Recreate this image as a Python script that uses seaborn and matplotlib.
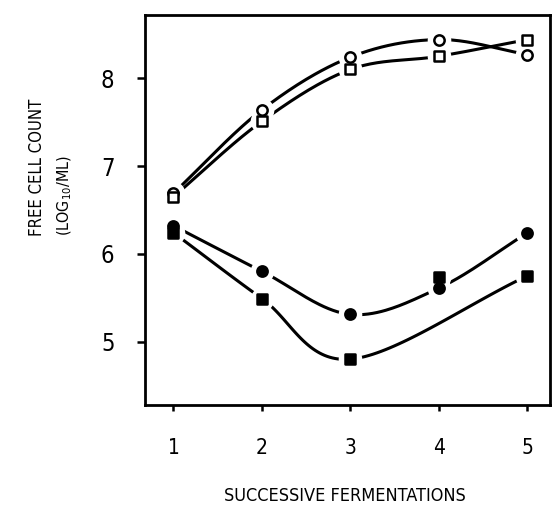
import numpy as np
import pandas as pd
import matplotlib
matplotlib.use("Agg")
import matplotlib.pyplot as plt
import seaborn as sns

# ---- data ----
fermentations = [1, 2, 3, 4, 5]
open_circle = [6.69, 7.64, 8.24, 8.44, 8.27]
open_square = [6.65, 7.51, 8.10, 8.25, 8.44]
filled_circle = [6.32, 5.80, 5.31, 5.61, 6.24]
filled_square = [6.24, 5.49, 4.80, 5.74, 5.75]
# points that the hand-drawn guide curve follows
filled_square_in_curve = [True, True, True, False, True]
x_ticks = [1, 2, 3, 4, 5]
y_ticks = [5, 6, 7, 8]

sns.set_theme(style="ticks")
plt.rcParams["font.family"] = ["DejaVu Sans"]
plt.rcParams["font.stretch"] = "condensed"


def catmull_rom(xs, ys, n=40):
    xs = np.asarray(xs, float)
    ys = np.asarray(ys, float)
    px = np.concatenate([[2 * xs[0] - xs[1]], xs, [2 * xs[-1] - xs[-2]]])
    py = np.concatenate([[2 * ys[0] - ys[1]], ys, [2 * ys[-1] - ys[-2]]])
    ox, oy = [], []
    for i in range(1, len(px) - 2):
        t = np.linspace(0, 1, n, endpoint=(i == len(px) - 3))
        for arr, out in ((px, ox), (py, oy)):
            p0, p1, p2, p3 = arr[i - 1], arr[i], arr[i + 1], arr[i + 2]
            out.extend(0.5 * ((2 * p1) + (-p0 + p2) * t
                              + (2 * p0 - 5 * p1 + 4 * p2 - p3) * t ** 2
                              + (-p0 + 3 * p1 - 3 * p2 + p3) * t ** 3))
    return np.array(ox), np.array(oy)


series = {
    "open_circle": (open_circle, "o", "white", [True] * 5),
    "open_square": (open_square, "s", "white", [True] * 5),
    "filled_circle": (filled_circle, "o", "black", [True] * 5),
    "filled_square": (filled_square, "s", "black", filled_square_in_curve),
}

fig = plt.figure(figsize=(5.54, 5.17), dpi=100)
ax = fig.add_axes([0.262, 0.217, 0.730, 0.754])

curves = []
points = []
for name, (vals, mk, fc, mask) in series.items():
    xs = [x for x, m in zip(fermentations, mask) if m]
    ys = [v for v, m in zip(vals, mask) if m]
    cx, cy = catmull_rom(xs, ys)
    curves.append(pd.DataFrame({"x": cx, "y": cy, "series": name}))
    points.append(pd.DataFrame({"x": fermentations, "y": vals, "series": name}))
curves = pd.concat(curves, ignore_index=True)
points = pd.concat(points, ignore_index=True)

sns.lineplot(data=curves, x="x", y="y", units="series", estimator=None,
             sort=False, color="black", lw=2.2, ax=ax)
for ln in ax.get_lines():
    ln.set_zorder(2)
# white halos create the small gaps of the hand-drawn lines around symbols
ax.plot(points["x"].to_numpy(), points["y"].to_numpy(), ls="none",
        marker="o", ms=17, mfc="white", mec="none", zorder=10)
for name, (vals, mk, fc, mask) in series.items():
    sub = points[points["series"] == name]
    sns.scatterplot(data=sub, x="x", y="y", marker=mk, s=55, color=fc,
                    edgecolor="black", linewidth=1.8, ax=ax, legend=False,
                    zorder=11)

ax.set_xlim(0.68, 5.25)
ax.set_ylim(4.28, 8.72)
ax.set_xticks(x_ticks)
ax.set_yticks(y_ticks)
ax.set_xticklabels([str(t) for t in x_ticks], fontsize=15)
ax.set_yticklabels([str(t) for t in y_ticks], fontsize=17)
ax.tick_params(axis="x", direction="out", length=4, width=1.8, pad=20,
               colors="black")
ax.tick_params(axis="y", direction="out", length=6, width=1.8, pad=16,
               colors="black")
for sp in ax.spines.values():
    sp.set_visible(True)
    sp.set_linewidth(2)
    sp.set_color("black")
    sp.set_zorder(20)
ax.set_xlabel("")
ax.set_ylabel("")

fig.text(0.067, 0.677, "FREE CELL COUNT", rotation=90, ha="center",
         va="center", fontsize=12, color="black")
fig.text(0.117, 0.623, r"(LOG$_{10}$/ML)", rotation=90, ha="center",
         va="center", fontsize=11.5, color="black")
fig.text(0.623, 0.041, "SUCCESSIVE FERMENTATIONS", ha="center",
         va="center", fontsize=13, color="black")

fig.savefig("out.png", dpi=100, facecolor="white")
